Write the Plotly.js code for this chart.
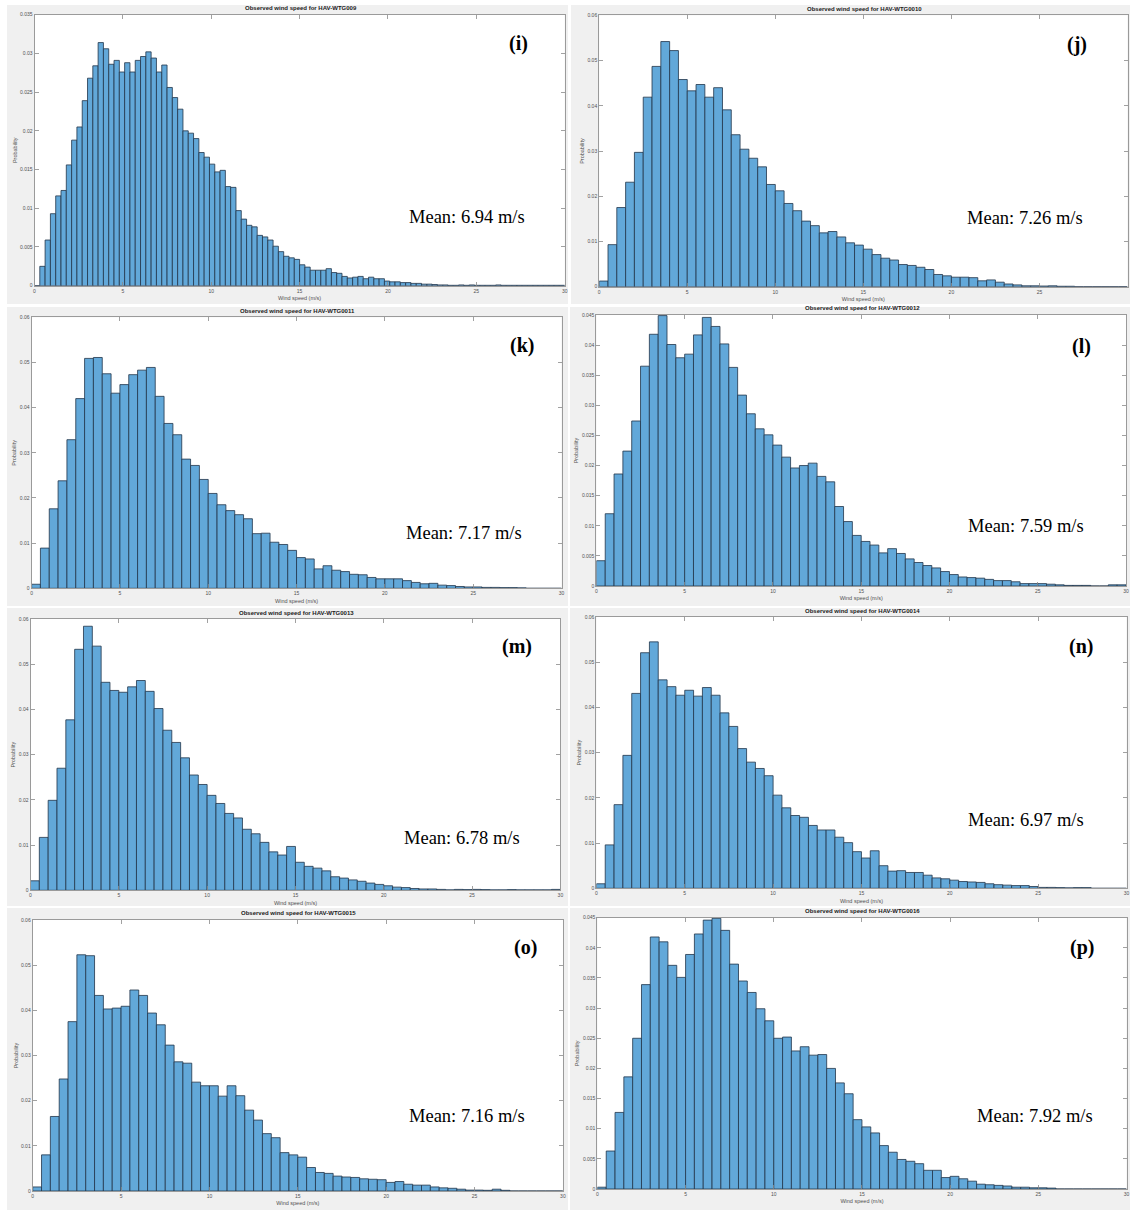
<!DOCTYPE html>
<html>
<head>
<meta charset="utf-8">
<script src="https://cdn.plot.ly/plotly-3.0.1.min.js"></script>
<style>
  html, body { margin: 0; padding: 0; background: #ffffff; }
  #chart { width: 1130px; height: 1210px; }
</style>
</head>
<body>
<div id="chart"></div>
<script>
// ---------------- DATA (probability per wind-speed bin) ----------------
const panelLabels = ["(i)", "(j)", "(k)", "(l)", "(m)", "(n)", "(o)", "(p)"];
const turbineNames = ["HAV-WTG009", "HAV-WTG0010", "HAV-WTG0011", "HAV-WTG0012",
                      "HAV-WTG0013", "HAV-WTG0014", "HAV-WTG0015", "HAV-WTG0016"];
const meanLabels = ["Mean: 6.94 m/s", "Mean: 7.26 m/s", "Mean: 7.17 m/s", "Mean: 7.59 m/s",
                    "Mean: 6.78 m/s", "Mean: 6.97 m/s", "Mean: 7.16 m/s", "Mean: 7.92 m/s"];
const binWidths = [0.3, 0.5, 0.5, 0.5, 0.5, 0.5, 0.5, 0.5];
const yMax = [0.035, 0.06, 0.06, 0.045, 0.06, 0.06, 0.06, 0.045];
const yStep = [0.005, 0.01, 0.01, 0.005, 0.01, 0.01, 0.01, 0.005];
const xTicks = [0, 5, 10, 15, 20, 25, 30];

const probWTG009 = [
  0, 0.0025, 0.0059, 0.0093, 0.0116, 0.0123, 0.0156, 0.0188, 0.0205, 0.0239,
  0.0268, 0.0284, 0.0314, 0.0306, 0.0286, 0.0291, 0.0276, 0.0288, 0.0276, 0.0291,
  0.0296, 0.0302, 0.0294, 0.0276, 0.0285, 0.0256, 0.0243, 0.0228, 0.0200, 0.0197,
  0.0190, 0.0172, 0.0166, 0.0157, 0.0147, 0.0149, 0.0128, 0.0127, 0.0097, 0.0086,
  0.0078, 0.0076, 0.0065, 0.0063, 0.0059, 0.0051, 0.0044, 0.0038, 0.0036, 0.0034,
  0.0027, 0.0024, 0.0020, 0.0020, 0.0020, 0.0022, 0.0017, 0.0016, 0.0012, 0.0010,
  0.0011, 0.0012, 0.0009, 0.0011, 0.0009, 0.0009, 0.0006, 0.0005, 0.0005, 0.0004,
  0.0004, 0.0003, 0.0003, 0.0002, 0.0002, 0.00015, 0.0001, 0.0001, 0.00005, 0.00005,
  0.0001, 0.00005, 0.0001, 0.00005, 0.00005, 0.00005, 0.00005, 0.0001, 0.00005, 0.00005,
  0.00005, 0.00005, 0.00005, 0.00005, 0.00005, 0.00005, 0.00005, 0.00005, 0.00005, 0.00005
];
const probWTG0010 = [
  0.00125, 0.0093, 0.0175, 0.0231, 0.0297, 0.0419, 0.0487, 0.0542, 0.0522, 0.0458,
  0.0433, 0.0447, 0.0419, 0.0440, 0.0391, 0.0336, 0.0304, 0.0284, 0.0265, 0.0226,
  0.0212, 0.0184, 0.0168, 0.0145, 0.0135, 0.0119, 0.0122, 0.0110, 0.0097, 0.0092,
  0.0083, 0.0071, 0.0063, 0.0059, 0.0049, 0.0047, 0.0043, 0.0038, 0.0027, 0.0024,
  0.0021, 0.0021, 0.0020, 0.0013, 0.0015, 0.0010, 0.0006, 0.0004, 0.0002, 0.0002,
  0.00015, 0.0002, 0.0001, 0.0001, 0, 0, 0, 0, 0, 0
];
const probWTG0011 = [
  0.0009, 0.0089, 0.0176, 0.0238, 0.0329, 0.0420, 0.0509, 0.0511, 0.0475, 0.0432,
  0.0451, 0.0473, 0.0483, 0.0489, 0.0425, 0.0365, 0.0340, 0.0286, 0.0272, 0.0241,
  0.0210, 0.0185, 0.0172, 0.0163, 0.0154, 0.0121, 0.0122, 0.0102, 0.0097, 0.0084,
  0.0068, 0.0065, 0.0043, 0.0050, 0.0040, 0.0037, 0.0031, 0.0030, 0.0024, 0.0021,
  0.0021, 0.0021, 0.0017, 0.0013, 0.0010, 0.0011, 0.0007, 0.0006, 0.0004, 0.0003,
  0.0003, 0.0002, 0.0002, 0.00015, 0.00015, 0.0001, 0, 0, 0, 0
];
const probWTG0012 = [
  0.0042, 0.0120, 0.0186, 0.0224, 0.0274, 0.0365, 0.0418, 0.0449, 0.0401, 0.0379,
  0.0385, 0.0417, 0.0446, 0.0431, 0.0402, 0.0363, 0.0317, 0.0286, 0.0261, 0.0251,
  0.0234, 0.0214, 0.0196, 0.0200, 0.0204, 0.0182, 0.0173, 0.0132, 0.0107, 0.0084,
  0.0074, 0.0068, 0.0055, 0.0062, 0.0054, 0.0045, 0.0039, 0.0034, 0.0030, 0.0024,
  0.0019, 0.0015, 0.0014, 0.0013, 0.0011, 0.0009, 0.0009, 0.0007, 0.0004, 0.0004,
  0.0004, 0.0003, 0.0002, 0.0001, 0.0001, 0.0001, 0, 0, 0.0002, 0.0002
];
const probWTG0013 = [
  0.0021, 0.0117, 0.0199, 0.0270, 0.0377, 0.0533, 0.0584, 0.0540, 0.0460, 0.0442,
  0.0438, 0.0450, 0.0464, 0.0440, 0.0402, 0.0354, 0.0327, 0.0293, 0.0255, 0.0234,
  0.0210, 0.0192, 0.0170, 0.0160, 0.0135, 0.0125, 0.0106, 0.0085, 0.0078, 0.0097,
  0.0062, 0.0053, 0.0049, 0.0043, 0.0030, 0.0027, 0.0023, 0.0020, 0.0016, 0.0013,
  0.0010, 0.0007, 0.0006, 0.0004, 0.0003, 0.0003, 0.0002, 0.0001, 0.0002, 0.00015,
  0.0002, 0.00015, 0.0001, 0.0001, 0.00015, 0.0001, 0.0001, 0.0001, 0.0001, 0.0002
];
const probWTG0014 = [
  0.0010, 0.0096, 0.0185, 0.0294, 0.0431, 0.0521, 0.0545, 0.0461, 0.0446, 0.0427,
  0.0438, 0.0425, 0.0444, 0.0427, 0.0388, 0.0358, 0.0309, 0.0279, 0.0265, 0.0249,
  0.0206, 0.0178, 0.0161, 0.0157, 0.0139, 0.0129, 0.0129, 0.0113, 0.0101, 0.0081,
  0.0067, 0.0083, 0.0050, 0.0038, 0.0039, 0.0035, 0.0035, 0.0029, 0.0023, 0.0021,
  0.0018, 0.0015, 0.0014, 0.0013, 0.0010, 0.0008, 0.0007, 0.0006, 0.0006, 0.0004,
  0.0002, 0.0002, 0.00015, 0.0001, 0.00015, 0.00015, 0, 0, 0, 0
];
const probWTG0015 = [
  0.0009, 0.0080, 0.0165, 0.0248, 0.0375, 0.0523, 0.0521, 0.0433, 0.0403, 0.0405,
  0.0409, 0.0445, 0.0433, 0.0394, 0.0368, 0.0323, 0.0286, 0.0283, 0.0241, 0.0233,
  0.0233, 0.0210, 0.0233, 0.0211, 0.0179, 0.0157, 0.0127, 0.0118, 0.0085, 0.0080,
  0.0075, 0.0052, 0.0041, 0.0039, 0.0033, 0.0031, 0.0030, 0.0027, 0.0026, 0.0025,
  0.0019, 0.0021, 0.0015, 0.0013, 0.0013, 0.0009, 0.0007, 0.0006, 0.0004, 0.0002,
  0.0002, 0.00015, 0.0004, 0.00015, 0, 0, 0, 0, 0, 0
];
const probWTG0016 = [
  0.0003, 0.0063, 0.0127, 0.0186, 0.0250, 0.0339, 0.0418, 0.0410, 0.0371, 0.0351,
  0.0389, 0.0423, 0.0446, 0.0449, 0.0429, 0.0373, 0.0345, 0.0326, 0.0299, 0.0279,
  0.0250, 0.0252, 0.0229, 0.0236, 0.0222, 0.0223, 0.0200, 0.0176, 0.0158, 0.0115,
  0.0103, 0.0093, 0.0072, 0.0061, 0.0049, 0.0046, 0.0042, 0.0031, 0.0031, 0.0019,
  0.0021, 0.0017, 0.0013, 0.0008, 0.0007, 0.0006, 0.0005, 0.0003, 0.0003, 0.0002,
  0.0002, 0.00015, 0, 0, 0, 0, 0, 0, 0, 0
];
const allProbs = [probWTG009, probWTG0010, probWTG0011, probWTG0012,
                  probWTG0013, probWTG0014, probWTG0015, probWTG0016];

// ---------------- LAYOUT GEOMETRY (pixels in the 1130x1210 page) ----------------
const W = 1130, H = 1210;
// axes boxes [left, right, top, bottom]
const boxes = [
  [34.5, 564.7, 14.7, 285.7],
  [599.2, 1127.5, 15.3, 286.7],
  [31.6, 561.5, 317.3, 588.3],
  [596.4, 1126.0, 315.0, 586.0],
  [30.5, 560.4, 619.0, 890.3],
  [596.4, 1126.5, 617.0, 888.3],
  [32.7, 562.9, 920.0, 1191.0],
  [597.4, 1126.5, 917.7, 1189.0]
];
// grey figure backgrounds [left, right, top, bottom]
const figs = [
  [7, 568, 5, 304], [571, 1130, 5, 304],
  [7, 568, 307, 606], [570, 1130, 307, 606],
  [7, 568, 608, 906], [570, 1130, 608, 906],
  [7, 568, 908, 1210], [570, 1130, 908, 1210]
];
const labelPos = [[518, 43], [1077, 45], [522, 345], [1081, 346], [517, 647], [1081, 647], [525, 947], [1082, 947]];
const meanPos = [[466.5, 217], [1025, 218], [463.6, 532.7], [1025.5, 525.7], [461.8, 837.7], [1026, 820], [466.5, 1115.7], [1034.5, 1115.7]];

const px = v => v / W;
const py = v => 1 - v / H;

const traces = [];
const layout = {
  width: W, height: H,
  margin: {l: 0, r: 0, t: 0, b: 0},
  paper_bgcolor: '#ffffff',
  plot_bgcolor: '#ffffff',
  showlegend: false,
  shapes: [],
  annotations: [],
  font: {family: 'Liberation Sans, Arial, sans-serif', color: '#404040', size: 5}
};

for (let i = 0; i < 8; i++) {
  const n = i === 0 ? '' : String(i + 1);
  const w = binWidths[i];
  const vals = allProbs[i];
  const centers = vals.map((_, k) => (k + 0.5) * w);
  traces.push({
    type: 'bar',
    x: centers,
    y: vals,
    width: w,
    xaxis: 'x' + n,
    yaxis: 'y' + n,
    marker: {color: '#62a8d9', line: {color: 'rgba(35,55,75,0.9)', width: 0.9}},
    hoverinfo: 'skip'
  });
  const b = boxes[i];
  const yt = [];
  for (let t = 0; t <= yMax[i] + 1e-9; t += yStep[i]) yt.push(+t.toFixed(4));
  layout['xaxis' + n] = {
    domain: [px(b[0]), px(b[1])],
    anchor: 'y' + n,
    range: [0, 30.0001],
    tickvals: xTicks,
    ticktext: xTicks.map(String),
    ticks: 'inside', ticklen: 4, tickwidth: 0.8, tickcolor: '#8a8a8a',
    showline: true, linecolor: '#9a9a9a', linewidth: 1, mirror: 'ticks',
    showgrid: false, zeroline: false,
    tickfont: {size: 5, color: '#505050', family: 'Liberation Sans, Arial, sans-serif'},
    title: {text: 'Wind speed (m/s)', standoff: 3, font: {size: 5.5, color: '#505050', family: 'Liberation Sans, Arial, sans-serif'}},
    fixedrange: true
  };
  layout['yaxis' + n] = {
    domain: [py(b[3]), py(b[2])],
    anchor: 'x' + n,
    range: [0, yMax[i] * 1.00001],
    tickvals: yt,
    ticktext: yt.map(v => String(v)),
    ticks: 'inside', ticklen: 4, tickwidth: 0.8, tickcolor: '#8a8a8a',
    showline: true, linecolor: '#9a9a9a', linewidth: 1, mirror: 'ticks',
    showgrid: false, zeroline: false,
    tickfont: {size: 5, color: '#505050', family: 'Liberation Sans, Arial, sans-serif'},
    title: {text: 'Probability', standoff: 2, font: {size: 5.5, color: '#505050', family: 'Liberation Sans, Arial, sans-serif'}},
    fixedrange: true
  };
  const f = figs[i];
  layout.shapes.push({
    type: 'rect', xref: 'paper', yref: 'paper', layer: 'below',
    x0: px(f[0]), x1: px(f[1]), y0: py(f[3]), y1: py(f[2]),
    fillcolor: '#f0f0f0', line: {width: 0}
  });
  layout.shapes.push({
    type: 'rect', xref: 'paper', yref: 'paper', layer: 'below',
    x0: px(b[0]), x1: px(b[1]), y0: py(b[3]), y1: py(b[2]),
    fillcolor: '#ffffff', line: {width: 0}
  });
  layout.annotations.push({
    xref: 'paper', yref: 'paper', x: px((b[0] + b[1]) / 2 + 1), y: py(b[2] - 1.5),
    xanchor: 'center', yanchor: 'bottom', showarrow: false,
    text: '<b>Observed wind speed for ' + turbineNames[i] + '</b>',
    font: {size: 6, color: '#202020', family: 'Liberation Sans, Arial, sans-serif'}
  });
  layout.annotations.push({
    xref: 'paper', yref: 'paper', x: px(labelPos[i][0]), y: py(labelPos[i][1]),
    xanchor: 'center', yanchor: 'middle', showarrow: false,
    text: '<b>' + panelLabels[i] + '</b>',
    font: {size: 20, color: '#000000', family: 'Liberation Serif, Times New Roman, serif'}
  });
  layout.annotations.push({
    xref: 'paper', yref: 'paper', x: px(meanPos[i][0]), y: py(meanPos[i][1]),
    xanchor: 'center', yanchor: 'middle', showarrow: false,
    text: meanLabels[i],
    font: {size: 18.5, color: '#000000', family: 'Liberation Serif, Times New Roman, serif'}
  });
}

Plotly.newPlot('chart', traces, layout, {displayModeBar: false, staticPlot: true});
</script>
</body>
</html>
